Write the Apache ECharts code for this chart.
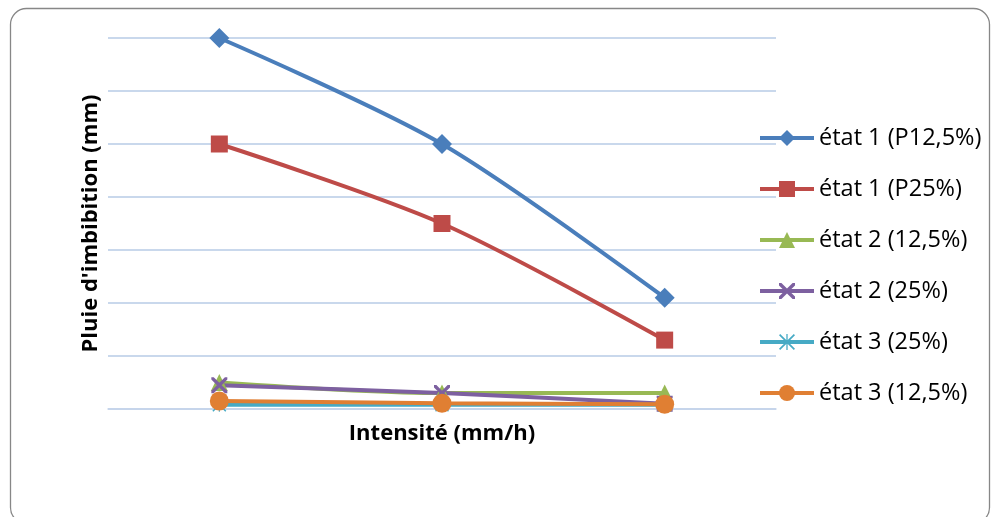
<!DOCTYPE html>
<html><head><meta charset="utf-8">
<script src="https://cdn.jsdelivr.net/npm/echarts@6/dist/echarts.min.js"></script>
<style>html,body{margin:0;padding:0;background:#fff}#c{width:992px;height:517px}</style>
</head><body><div id="c"></div>
<script>
const categories = ['I1', 'I2', 'I3'];
const seriesNames = ['état 1 (P12,5%)', 'état 1 (P25%)', 'état 2 (12,5%)', 'état 2 (25%)', 'état 3 (25%)', 'état 3 (12,5%)'];
const etat1P125 = [70, 50, 21];
const etat1P25 = [50, 35, 13];
const etat2_125 = [5, 3, 3];
const etat2_25 = [4.5, 3, 1];
const etat3_25 = [0.8, 0.8, 0.8];
const etat3_125 = [1.5, 1.1, 0.9];
const yTicks = [0, 10, 20, 30, 40, 50, 60, 70];

const colors = ['#4A7EBB', '#BE4B48', '#98B954', '#7D60A0', '#46AAC5', '#E07F33'];
const xPath = 'path://M0,0 L3,0 L10,7 L17,0 L20,0 L20,3 L13,10 L20,17 L20,20 L17,20 L10,13 L3,20 L0,20 L0,17 L7,10 L0,3 Z';
const starPath = 'path://M0,1.5 L1.5,0 L10,8.5 L18.5,0 L20,1.5 L11.5,10 L20,18.5 L18.5,20 L10,11.5 L1.5,20 L0,18.5 L8.5,10 Z M9.2,0 L10.8,0 L10.8,20 L9.2,20 Z';
const symbols = ['diamond', 'rect', 'triangle', xPath, starPath, 'circle'];
const symbolSizes = [20, 17, 17, 16, 14, 19];
const datas = [etat1P125, etat1P25, etat2_125, etat2_25, etat3_25, etat3_125];

const chart = echarts.init(document.getElementById('c'));
const font = 'Open Sans';
chart.setOption({
  animation: false,
  textStyle: { fontFamily: font },
  graphic: [{
    type: 'rect', left: 8, top: 6, shape: { width: 979, height: 515, r: 16 },
    style: { fill: 'none', stroke: '#878787', lineWidth: 1.3 }, z: -1
  }],
  grid: { left: 108, right: 216, top: 38, bottom: 108 },
  legend: {
    orient: 'vertical', left: 758, top: 126, padding: 0,
    itemWidth: 54, itemHeight: 20, itemGap: 27,
    lineStyle: { width: 4 },
    textStyle: { fontSize: 23.5, color: '#000', fontFamily: font },
    data: seriesNames
  },
  xAxis: {
    type: 'category', data: categories, boundaryGap: true,
    axisLabel: { show: false }, axisTick: { show: false },
    axisLine: { show: true, lineStyle: { color: '#C5D4EA', width: 1.5 } },
    name: 'Intensité (mm/h)', nameLocation: 'middle', nameGap: 14,
    nameTextStyle: { fontSize: 22, fontWeight: 'bold', color: '#000', fontFamily: font, verticalAlign: 'top' }
  },
  yAxis: {
    type: 'value', min: yTicks[0], max: yTicks[yTicks.length - 1], interval: 10,
    axisLabel: { show: false }, axisTick: { show: false }, axisLine: { show: false },
    splitLine: { lineStyle: { color: '#B7CBE6', width: 1.5 } },
    name: "Pluie d'imbibition (mm)", nameLocation: 'middle', nameGap: 6,
    nameTextStyle: { fontSize: 22, fontWeight: 'bold', color: '#000', fontFamily: font, verticalAlign: 'bottom' }
  },
  series: datas.map((d, i) => ({
    name: seriesNames[i], type: 'line', data: d, smooth: 0.3,
    symbol: symbols[i], symbolSize: symbolSizes[i],
    lineStyle: { color: colors[i], width: 4 },
    itemStyle: { color: colors[i] }
  }))
});
</script></body></html>
